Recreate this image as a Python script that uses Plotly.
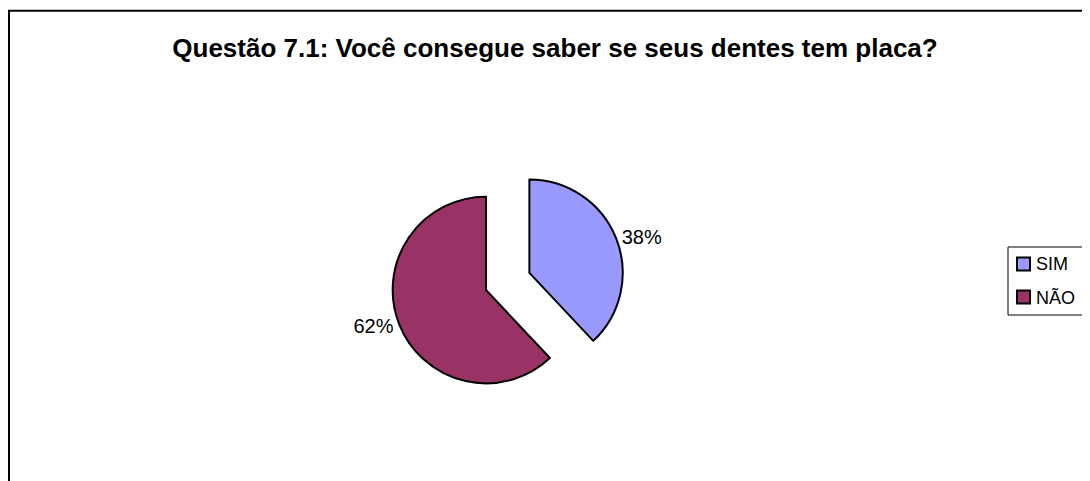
import plotly.graph_objects as go

labels = ["SIM", "NÃO"]
values = [38, 62]
colors = ["#9999FF", "#993366"]
pulls = [0.5, 0]

# page body has an 8px margin, so the figure is sized to fit the window
W, H = 1082, 473


def px(x):
    return x / W


def py(y):
    return 1 - y / H


fig = go.Figure()
fig.add_trace(
    go.Pie(
        labels=labels,
        values=values,
        marker=dict(colors=colors, line=dict(color="black", width=2)),
        pull=pulls,
        sort=False,
        direction="clockwise",
        rotation=0,
        textinfo="percent",
        textposition="outside",
        texttemplate="%{percent:.0%}",
        textfont=dict(family="Liberation Sans, Arial", size=20, color="black"),
        domain=dict(x=[px(338), px(618)], y=[py(422), py(142)]),
        hoverinfo="label+percent",
        showlegend=False,
    )
)

# outer chart border
fig.add_shape(
    type="rect", xref="paper", yref="paper",
    x0=px(1), y0=-0.1, x1=1.1, y1=py(2.7),
    line=dict(color="black", width=2), fillcolor="rgba(0,0,0,0)",
)

# legend box, drawn by hand
fig.add_shape(
    type="rect", xref="paper", yref="paper",
    x0=px(1000), y0=py(307), x1=px(1079), y1=py(239),
    line=dict(color="black", width=1), fillcolor="white",
)
for i, (lab, col) in enumerate(zip(labels, colors)):
    yc = 256 + i * 33
    fig.add_shape(
        type="rect", xref="paper", yref="paper",
        x0=px(1009), y0=py(yc + 6.5), x1=px(1022), y1=py(yc - 6.5),
        line=dict(color="black", width=2), fillcolor=col,
    )
    fig.add_annotation(
        x=px(1026), y=py(yc), xref="paper", yref="paper",
        xanchor="left", yanchor="middle", showarrow=False,
        text=lab, font=dict(size=18, color="black"),
    )

fig.update_layout(
    width=W, height=H,
    margin=dict(l=0, r=0, t=0, b=0),
    paper_bgcolor="white",
    plot_bgcolor="white",
    font=dict(family="Liberation Sans, Arial", color="black"),
    title=dict(
        text="<b>Questão 7.1: Você consegue saber se seus dentes tem placa?</b>",
        x=px(547), xanchor="center",
        y=py(40), yanchor="middle",
        font=dict(size=26, color="black"),
    ),
    showlegend=False,
)

fig.write_html("out.html")
